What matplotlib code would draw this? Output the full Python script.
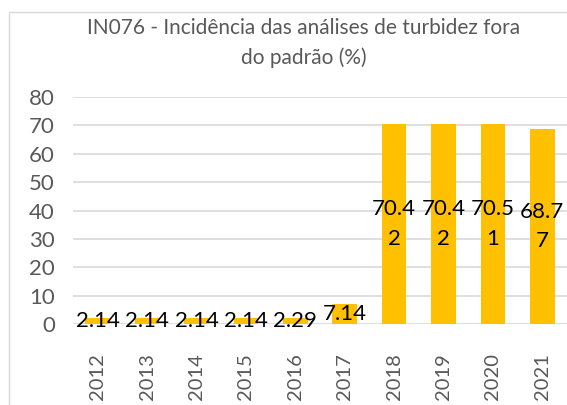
import matplotlib
matplotlib.use("Agg")
import matplotlib.pyplot as plt
from matplotlib.patches import Rectangle

plt.rcParams['font.family'] = ['Lato', 'DejaVu Sans']

anos = ['2012', '2013', '2014', '2015', '2016', '2017', '2018', '2019', '2020', '2021']
valores = [2.14, 2.14, 2.14, 2.14, 2.29, 7.14, 70.42, 70.42, 70.51, 68.77]
y_ticks = [0, 10, 20, 30, 40, 50, 60, 70, 80]

cinza = '#595959'

fig = plt.figure(figsize=(5.67, 4.05), dpi=100)
ax = fig.add_axes([73 / 567, 1 - 324 / 405, 1 - 73 / 567, (324 - 97) / 405])

# moldura do gráfico (cortada à direita e embaixo)
fig.patches.append(Rectangle((9 / 567, -0.5), 1.2, 1.5 - 12 / 405,
                             transform=fig.transFigure, fill=False,
                             edgecolor='#d9d9d9', linewidth=1))

x = range(len(anos))
ax.bar(x, valores, width=0.5, color='#FFC000', zorder=3)

# rótulos no meio das barras, quebrados como no Excel
for i, v in enumerate(valores):
    s = f"{v:.2f}"
    if v >= 10:
        s = s[:4] + "\n" + s[4:]
    ax.text(i, v / 2, s, ha='center', va='center', fontsize=16,
            color='black', zorder=4, linespacing=1.6)

ax.set_ylim(0, 80)
ax.set_xlim(-0.5, len(anos) - 0.5)
ax.set_yticks(y_ticks)
ax.set_xticks(list(x))
ax.set_xticklabels(anos, rotation=90)
ax.tick_params(axis='both', length=0, labelcolor=cinza)
ax.tick_params(axis='y', pad=13, labelsize=16)
ax.tick_params(axis='x', pad=21, labelsize=14.5)
ax.yaxis.grid(True, color='#d9d9d9', linewidth=1.2, zorder=0)
ax.set_axisbelow(True)
for sp in ax.spines.values():
    sp.set_visible(False)

fig.text(0.536, 1 - 43 / 405, 'IN076 - Incidência das análises de turbidez fora\ndo padrão (%)',
         ha='center', va='center', fontsize=15, color=cinza, linespacing=1.6)

fig.savefig('out.png', dpi=100)
